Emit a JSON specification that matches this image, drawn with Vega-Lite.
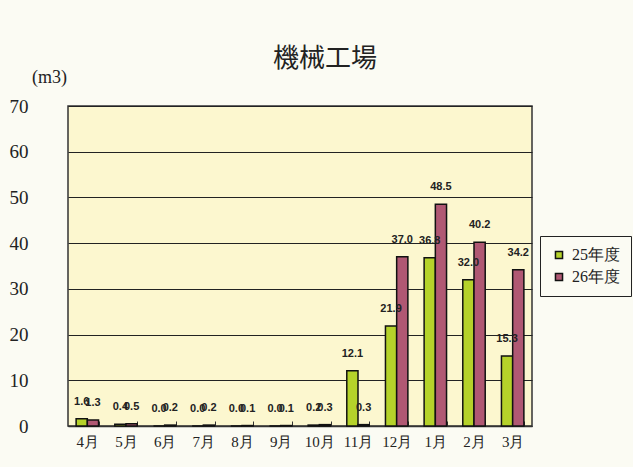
{
  "$schema": "https://vega.github.io/schema/vega-lite/v6.json",
  "width": 464,
  "height": 320,
  "autosize": {"type": "none"},
  "padding": {"left": 68, "top": 106, "right": 101, "bottom": 41},
  "background": "#fbfbf3",
  "title": {
    "text": "機械工場",
    "font": "Noto Sans CJK JP",
    "fontSize": 26,
    "fontWeight": "normal",
    "color": "#222222",
    "anchor": "middle",
    "dx": 25,
    "offset": -4
  },
  "config": {
    "view": {"fill": "#fcf7cf", "stroke": "#333333", "strokeWidth": 1.5}
  },
  "data": {
    "values": [
      {"month": "4月", "year": "25年度", "value": 1.6},
      {"month": "4月", "year": "26年度", "value": 1.3},
      {"month": "5月", "year": "25年度", "value": 0.4},
      {"month": "5月", "year": "26年度", "value": 0.5},
      {"month": "6月", "year": "25年度", "value": 0.0},
      {"month": "6月", "year": "26年度", "value": 0.2},
      {"month": "7月", "year": "25年度", "value": 0.0},
      {"month": "7月", "year": "26年度", "value": 0.2},
      {"month": "8月", "year": "25年度", "value": 0.0},
      {"month": "8月", "year": "26年度", "value": 0.1},
      {"month": "9月", "year": "25年度", "value": 0.0},
      {"month": "9月", "year": "26年度", "value": 0.1},
      {"month": "10月", "year": "25年度", "value": 0.2},
      {"month": "10月", "year": "26年度", "value": 0.3},
      {"month": "11月", "year": "25年度", "value": 12.1},
      {"month": "11月", "year": "26年度", "value": 0.3},
      {"month": "12月", "year": "25年度", "value": 21.9},
      {"month": "12月", "year": "26年度", "value": 37.0},
      {"month": "1月", "year": "25年度", "value": 36.8},
      {"month": "1月", "year": "26年度", "value": 48.5},
      {"month": "2月", "year": "25年度", "value": 32.0},
      {"month": "2月", "year": "26年度", "value": 40.2},
      {"month": "3月", "year": "25年度", "value": 15.3},
      {"month": "3月", "year": "26年度", "value": 34.2}
    ]
  },
  "encoding": {
    "x": {
      "field": "month",
      "type": "nominal",
      "sort": ["4月","5月","6月","7月","8月","9月","10月","11月","12月","1月","2月","3月"],
      "scale": {"paddingInner": 0.42, "paddingOuter": 0.21},
      "axis": {
        "title": null,
        "labelAngle": 0,
        "labelFont": "Liberation Serif",
        "labelFontSize": 15,
        "labelColor": "#222222",
        "labelPadding": 13,
        "tickBand": "extent",
        "tickSize": -5,
        "tickColor": "#333333",
        "domainColor": "#333333",
        "domainWidth": 1.5
      }
    },
    "xOffset": {"field": "year", "type": "nominal"},
    "y": {
      "field": "value",
      "type": "quantitative",
      "scale": {"domain": [0, 70]},
      "axis": {
        "values": [0, 10, 20, 30, 40, 50, 60, 70],
        "title": "(m3)",
        "titleAngle": 0,
        "titleX": -19,
        "titleY": -29,
        "titleAlign": "center",
        "titleBaseline": "middle",
        "titleFont": "Liberation Serif",
        "titleFontSize": 18,
        "titleFontWeight": "normal",
        "titleColor": "#222222",
        "labelFont": "Liberation Serif",
        "labelFontSize": 19,
        "labelColor": "#222222",
        "labelPadding": 40,
        "ticks": false,
        "domain": false,
        "grid": true,
        "gridColor": "#222222",
        "gridWidth": 1
      }
    }
  },
  "layer": [
    {
      "mark": {"type": "bar", "stroke": "#111111", "strokeWidth": 1.5},
      "encoding": {
        "color": {
          "field": "year",
          "type": "nominal",
          "scale": {"domain": ["25年度", "26年度"], "range": ["#b5d22a", "#b05873"]},
          "legend": {
            "title": null,
            "orient": "none",
            "legendX": 472,
            "legendY": 130,
            "strokeColor": "#222222",
            "padding": 11,
            "symbolType": "square",
            "symbolSize": 50,
            "symbolStrokeColor": "#111111",
            "symbolStrokeWidth": 1.5,
            "labelFont": "Liberation Serif",
            "labelFontSize": 16,
            "labelColor": "#222222",
            "rowPadding": 6,
            "labelOffset": 5
          }
        }
      }
    },
    {
      "mark": {
        "type": "text",
        "font": "Liberation Sans",
        "fontSize": 11,
        "fontWeight": "bold",
        "color": "#222222",
        "baseline": "alphabetic",
        "dy": -14
      },
      "encoding": {
        "text": {"field": "value", "type": "quantitative", "format": ".1f"}
      }
    }
  ]
}
